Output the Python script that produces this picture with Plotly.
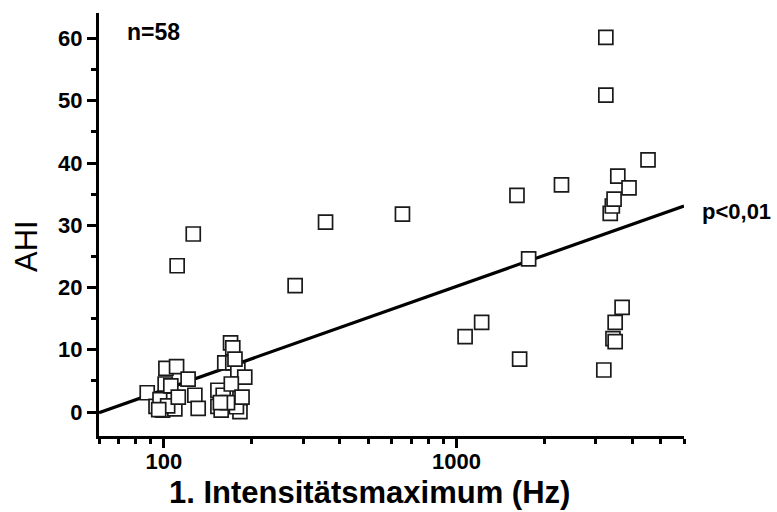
import plotly.graph_objects as go

# Data: 1. Intensitätsmaximum (Hz) vs AHI
freq_hz = [
    87.7, 94, 99, 97, 101, 101.6, 105.6, 108, 109, 110.5, 121, 127.6, 131,
    153, 153, 157, 159.5, 161.5, 169, 172, 172, 179, 189, 182, 182, 177,
    165, 103, 170, 156, 175, 96, 112, 185,
    111, 126, 281, 357, 654, 1071, 1220, 1611, 1645, 1766, 2287, 3192,
    3243, 3243, 3357, 3413, 3460, 3563, 3892, 4520, 3686, 3490, 3430, 3490,
]
ahi = [
    3.1, 0.9, 0.3, 2.0, 4.5, 7.0, 4.2, 1.9, 0.5, 7.3, 5.3, 2.7, 0.6,
    3.5, 0.9, 0.3, 2.7, 7.9, 11.1, 10.3, 7.9, 6.75, 5.6, 2.2, 0.05, 0.85,
    1.5, 1.0, 4.5, 1.5, 8.5, 0.4, 2.4, 2.4,
    23.5, 28.6, 20.3, 30.5, 31.8, 12.1, 14.4, 34.8, 8.5, 24.6, 36.5, 6.75,
    60.2, 50.9, 31.9, 33.1, 34.2, 37.9, 36.0, 40.5, 16.8, 14.4, 11.8, 11.3,
]

fit_x = [60, 6000]
fit_y = [-0.1, 33.1]

x_tickvals = [100, 1000]
x_ticktext = ["100", "1000"]
x_minor = [60, 70, 80, 90, 200, 300, 400, 500, 600, 700, 800, 900,
           2000, 3000, 4000, 5000, 6000]
y_tickvals = [0, 10, 20, 30, 40, 50, 60]
y_minor = [5, 15, 25, 35, 45, 55]

FONT = "Liberation Sans, Arial, sans-serif"

fig = go.Figure()
fig.add_trace(go.Scatter(
    x=fit_x, y=fit_y, mode="lines",
    line=dict(color="black", width=3.2),
    showlegend=False, hoverinfo="skip",
))
fig.add_trace(go.Scatter(
    x=freq_hz, y=ahi, mode="markers",
    marker=dict(symbol="square", size=14, color="white",
                line=dict(color="#1a1a1a", width=1.7)),
    showlegend=False, cliponaxis=False,
))

fig.update_layout(
    width=777, height=512,
    margin=dict(l=99, r=93, t=13, b=76),
    paper_bgcolor="white", plot_bgcolor="white",
    font=dict(family=FONT, color="black"),
    xaxis=dict(
        type="log", range=[1.77815, 3.77815],
        showline=True, linecolor="black", linewidth=3,
        showgrid=False, zeroline=False,
        ticks="outside", ticklen=9, tickwidth=2.5, tickcolor="black",
        tickvals=x_tickvals, ticktext=x_ticktext,
        ticklabelstandoff=-5,
        tickfont=dict(family=FONT, size=22, color="black", weight="bold"),
        minor=dict(tickvals=x_minor, ticks="outside", ticklen=5,
                   tickwidth=2.5, tickcolor="black", showgrid=False),
    ),
    yaxis=dict(
        range=[-3.85, 64.1],
        showline=True, linecolor="black", linewidth=3,
        showgrid=False, zeroline=False,
        ticks="outside", ticklen=9, tickwidth=2.5, tickcolor="black",
        tickvals=y_tickvals,
        tickfont=dict(family=FONT, size=22, color="black", weight="bold"),
        minor=dict(tickvals=y_minor, ticks="outside", ticklen=5,
                   tickwidth=2.5, tickcolor="black", showgrid=False),
    ),
    annotations=[
        dict(text="1. Intensitätsmaximum (Hz)", xref="paper", yref="paper",
             x=0.463, y=-0.133, xanchor="center", yanchor="middle",
             showarrow=False,
             font=dict(family=FONT, size=31, color="black", weight="bold")),
        dict(text="AHI", xref="paper", yref="paper",
             x=-0.125, y=0.449, xanchor="center", yanchor="middle",
             textangle=-90, showarrow=False,
             font=dict(family=FONT, size=31, color="black")),
        dict(text="n=58", xref="paper", yref="paper",
             x=0.045, y=0.955, xanchor="left", yanchor="middle",
             showarrow=False,
             font=dict(family=FONT, size=23, color="black", weight="bold")),
        dict(text="p<0,01", xref="paper", yref="paper",
             x=1.028, y=0.53, xanchor="left", yanchor="middle",
             showarrow=False,
             font=dict(family=FONT, size=22, color="black", weight="bold")),
    ],
)

fig.write_html("out.html")
